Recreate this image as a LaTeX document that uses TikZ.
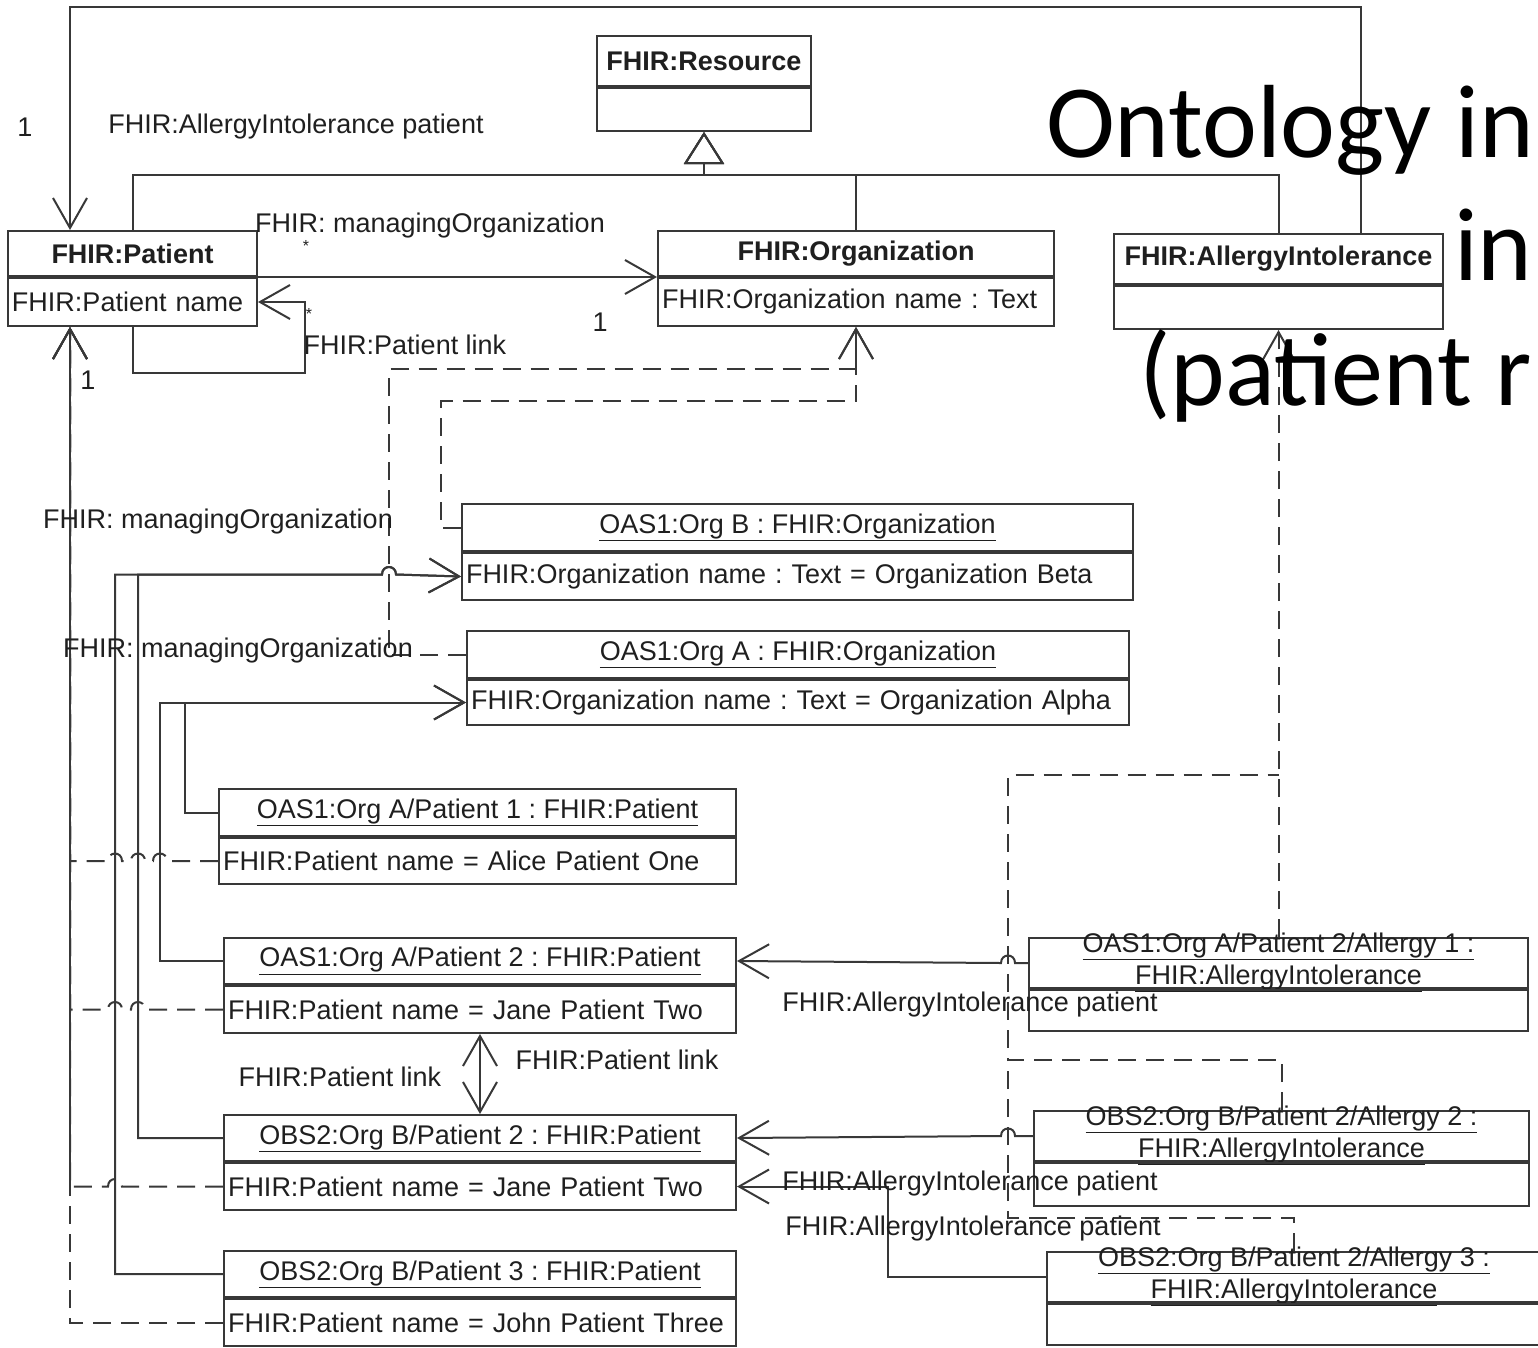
\documentclass[tikz,border=0pt]{standalone}
\usepackage{fontspec}
\setmainfont{Liberation Sans}
\newfontfamily\titlefont{Carlito}
\usetikzlibrary{arrows.meta, positioning}

\newcommand{\umlfont}{\fontsize{27}{32}\selectfont}

\begin{document}
\frenchspacing
\begin{tikzpicture}[x=1pt, y=-1pt, line width=2pt, color=black!78, text=black!88,
    font=\umlfont, >={Straight Barb[length=30pt, width=34pt]},
    head/.style={draw, anchor=north west, inner sep=0pt},
    attr/.style={draw, anchor=north west, inner xsep=4pt, inner ysep=0pt, align=left},
    twoline/.style={head, align=center, text height=46pt, text depth=4pt},
    bold/.style={font=\umlfont\bfseries},
    assoc/.style={->},
    instline/.style={dash pattern=on 18pt off 10pt},
    inst/.style={->, instline},
    gen/.style={-{Triangle[open, length=32pt, width=40pt]}},
    lbl/.style={inner sep=0pt},
    star/.style={inner sep=0pt, font=\fontsize{16}{16}\selectfont}]
  \useasboundingbox (0,0) rectangle (1538,1347);
  \clip (0,0) rectangle (1538,1347);

  % classes
  \node[head, bold, minimum width=214, minimum height=50] (resh) at (596,35) {FHIR:Resource};
  \node[attr, text width=206pt, minimum height=43] (resa) at (resh.south west) {};
  \node[head, bold, minimum width=249, minimum height=45] (pth) at (7,230) {FHIR:Patient};
  \node[attr, text width=241pt, minimum height=48] (pta) at (pth.south west) {FHIR:Patient name};
  \node[head, bold, minimum width=396, minimum height=45] (orgh) at (657,230) {FHIR:Organization};
  \node[attr, text width=388pt, minimum height=48] (orga) at (orgh.south west) {FHIR:Organization name : Text};
  \node[head, bold, minimum width=329, minimum height=50] (aih) at (1113,233) {FHIR:AllergyIntolerance};
  \node[attr, text width=321pt, minimum height=43] (aia) at (aih.south west) {};

  % objects
  \node[head, minimum width=671, minimum height=47] (obh) at (461,503) {\underline{OAS1:Org B : FHIR:Organization}};
  \node[attr, text width=663pt, minimum height=47] (oba) at (obh.south west) {FHIR:Organization name : Text = Organization Beta};
  \node[head, minimum width=662, minimum height=47] (oah) at (466,630) {\underline{OAS1:Org A : FHIR:Organization}};
  \node[attr, text width=654pt, minimum height=45] (oaa) at (oah.south west) {FHIR:Organization name : Text = Organization Alpha};
  \node[head, minimum width=517, minimum height=47] (p1h) at (218,788) {\underline{OAS1:Org A/Patient 1 : FHIR:Patient}};
  \node[attr, text width=509pt, minimum height=46] (p1a) at (p1h.south west) {FHIR:Patient name = Alice Patient One};
  \node[head, minimum width=512, minimum height=46] (p2ah) at (223,937) {\underline{OAS1:Org A/Patient 2 : FHIR:Patient}};
  \node[attr, text width=504pt, minimum height=47] (p2aa) at (p2ah.south west) {FHIR:Patient name = Jane Patient Two};
  \node[head, minimum width=512, minimum height=46] (p2bh) at (223,1114) {\underline{OBS2:Org B/Patient 2 : FHIR:Patient}};
  \node[attr, text width=504pt, minimum height=47] (p2ba) at (p2bh.south west) {FHIR:Patient name = Jane Patient Two};
  \node[head, minimum width=512, minimum height=46] (p3h) at (223,1250) {\underline{OBS2:Org B/Patient 3 : FHIR:Patient}};
  \node[attr, text width=504pt, minimum height=47] (p3a) at (p3h.south west) {FHIR:Patient name = John Patient Three};
  \node[twoline, minimum width=499, minimum height=50] (a1h) at (1028,937) {\underline{OAS1:Org A/Patient 2/Allergy 1 :}\\\underline{FHIR:AllergyIntolerance}};
  \node[attr, text width=491pt, minimum height=41] (a1a) at (a1h.south west) {};
  \node[twoline, minimum width=495, minimum height=50] (a2h) at (1033,1110) {\underline{OBS2:Org B/Patient 2/Allergy 2 :}\\\underline{FHIR:AllergyIntolerance}};
  \node[attr, text width=487pt, minimum height=43] (a2a) at (a2h.south west) {};
  \node[twoline, minimum width=494, minimum height=50] (a3h) at (1046,1251) {\underline{OBS2:Org B/Patient 2/Allergy 3 :}\\\underline{FHIR:AllergyIntolerance}};
  \node[attr, text width=486pt, minimum height=41] (a3a) at (a3h.south west) {};

  % generalization
  \draw[gen] (pth.north) -- ++(0,-55) -| (resa.south);
  \draw[gen] (orgh.north) -- ++(0,-55) -| (resa.south);
  \draw[gen] (aih.north) -- ++(0,-58) -| (resa.south);

  % class associations
  \draw[assoc] ([xshift=82.5pt]aih.north) -- ++(0,-226) -| ([xshift=-62.5pt]pth.north);
  \draw[assoc] (pth.south east) -- (orgh.south west);
  \draw[assoc] (pta.south) -- ++(0,46) -| ([xshift=47pt]pta.east) -- (pta.east);

  % instance of
  \draw[inst] (obh.west) -- ++(-20,0) -- ++(0,-126.5) -| (orga.south);
  \draw[inst] (oah.west) -- ++(-77,0) -- ++(0,-285.5) -| (orga.south);
  \draw[inst] (p1a.west) -- ++(-51,0) .. controls +(0,-10) and +(0,-10) .. ++(-14,0)
    -- ++(-8,0) .. controls +(0,-10) and +(0,-10) .. ++(-14,0)
    -- ++(-9,0) .. controls +(0,-10) and +(0,-10) .. ++(-14,0)
    -| ([xshift=-62.5pt]pta.south);
  \draw[inst] (p2aa.west) -- ++(-78,0) .. controls +(0,-10) and +(0,-10) .. ++(-14,0)
    -- ++(-9,0) .. controls +(0,-10) and +(0,-10) .. ++(-14,0)
    -| ([xshift=-62.5pt]pta.south);
  \draw[inst] (p2ba.west) -- ++(-101,0) .. controls +(0,-10) and +(0,-10) .. ++(-14,0)
    -| ([xshift=-62.5pt]pta.south);
  \draw[inst] (p3a.west) -| ([xshift=-62.5pt]pta.south);
  \coordinate (aj1) at (1008,775);
  \coordinate (aj2) at (1008,1060);
  \draw[inst] (a1h.north) -- (aia.south);
  \draw[instline] (a2h.north) -- ++(0,-50) -| (aj1) -- (aj1 -| aia.south);
  \draw[instline] (a3h.north) -- ++(0,-33) -| (aj2);

  % managing organization
  \draw[assoc] (p3h.west) -- ++(-108,0) -- ++(0,-699.5) -- ++(267,0)
    .. controls +(0,-10) and +(0,-10) .. ++(14,0) -- (oba.west);
  \draw[assoc] (p2bh.west) -- ++(-85,0) -- ++(0,-563.5) -- ++(244,0)
    .. controls +(0,-10) and +(0,-10) .. ++(14,0) -- (oba.west);
  \draw[assoc] (p2ah.west) -- ++(-63,0) |- (oaa.west);
  \draw[assoc] (p1h.west) -- ++(-33,0) |- (oaa.west);

  % patient link
  \draw[<->] (p2aa.south) -- (p2bh.north);

  % allergy patient
  \draw[assoc] (a1h.west) -- ++(-13,0) .. controls +(0,-10) and +(0,-10) .. ++(-14,0) -- (p2ah.east);
  \draw[assoc] (a2h.west) -- ++(-18,0) .. controls +(0,-10) and +(0,-10) .. ++(-14,0) -- (p2bh.east);
  \draw[assoc] (a3h.west) -- ++(-158,0) |- (p2ba.east);

  % labels
  \node[lbl] (m1) at (25,127) {1};
  \node[lbl] (l1) at (296,127) {FHIR:AllergyIntolerance patient};
  \node[star] (s1) at (1396,122) {*};
  \node[lbl] (l2) at (430,226) {FHIR: managingOrganization};
  \node[star] (s2) at (306,246) {*};
  \node[lbl] (m2) at (600,322) {1};
  \node[star] (s3) at (309,314) {*};
  \node[lbl] (l3) at (405,345) {FHIR:Patient link};
  \node[lbl] (m3) at (88,380) {1};
  \node[lbl] (l4) at (218,522) {FHIR: managingOrganization};
  \node[lbl] (l5) at (238,651) {FHIR: managingOrganization};
  \node[lbl] (l6) at (340,1077) {FHIR:Patient link};
  \node[lbl] (l7) at (617,1060) {FHIR:Patient link};
  \node[lbl] (l8) at (970,1005) {FHIR:AllergyIntolerance patient};
  \node[lbl] (l9) at (970,1183) {FHIR:AllergyIntolerance patient};
  \node[lbl] (l10) at (973,1228) {FHIR:AllergyIntolerance patient};

  % slide title
  \node[anchor=base west, inner sep=0pt, text=black, font=\titlefont\fontsize{104}{125}\selectfont] (t1) at (1045,157) {Ontology in};
  \node[anchor=base west, inner sep=0pt, text=black, font=\titlefont\fontsize{104}{125}\selectfont] (t2) at (1453,280) {in};
  \node[anchor=base west, inner sep=0pt, text=black, font=\titlefont\fontsize{104}{125}\selectfont] (t3) at (1138,405) {(patient r};
\end{tikzpicture}
\end{document}
